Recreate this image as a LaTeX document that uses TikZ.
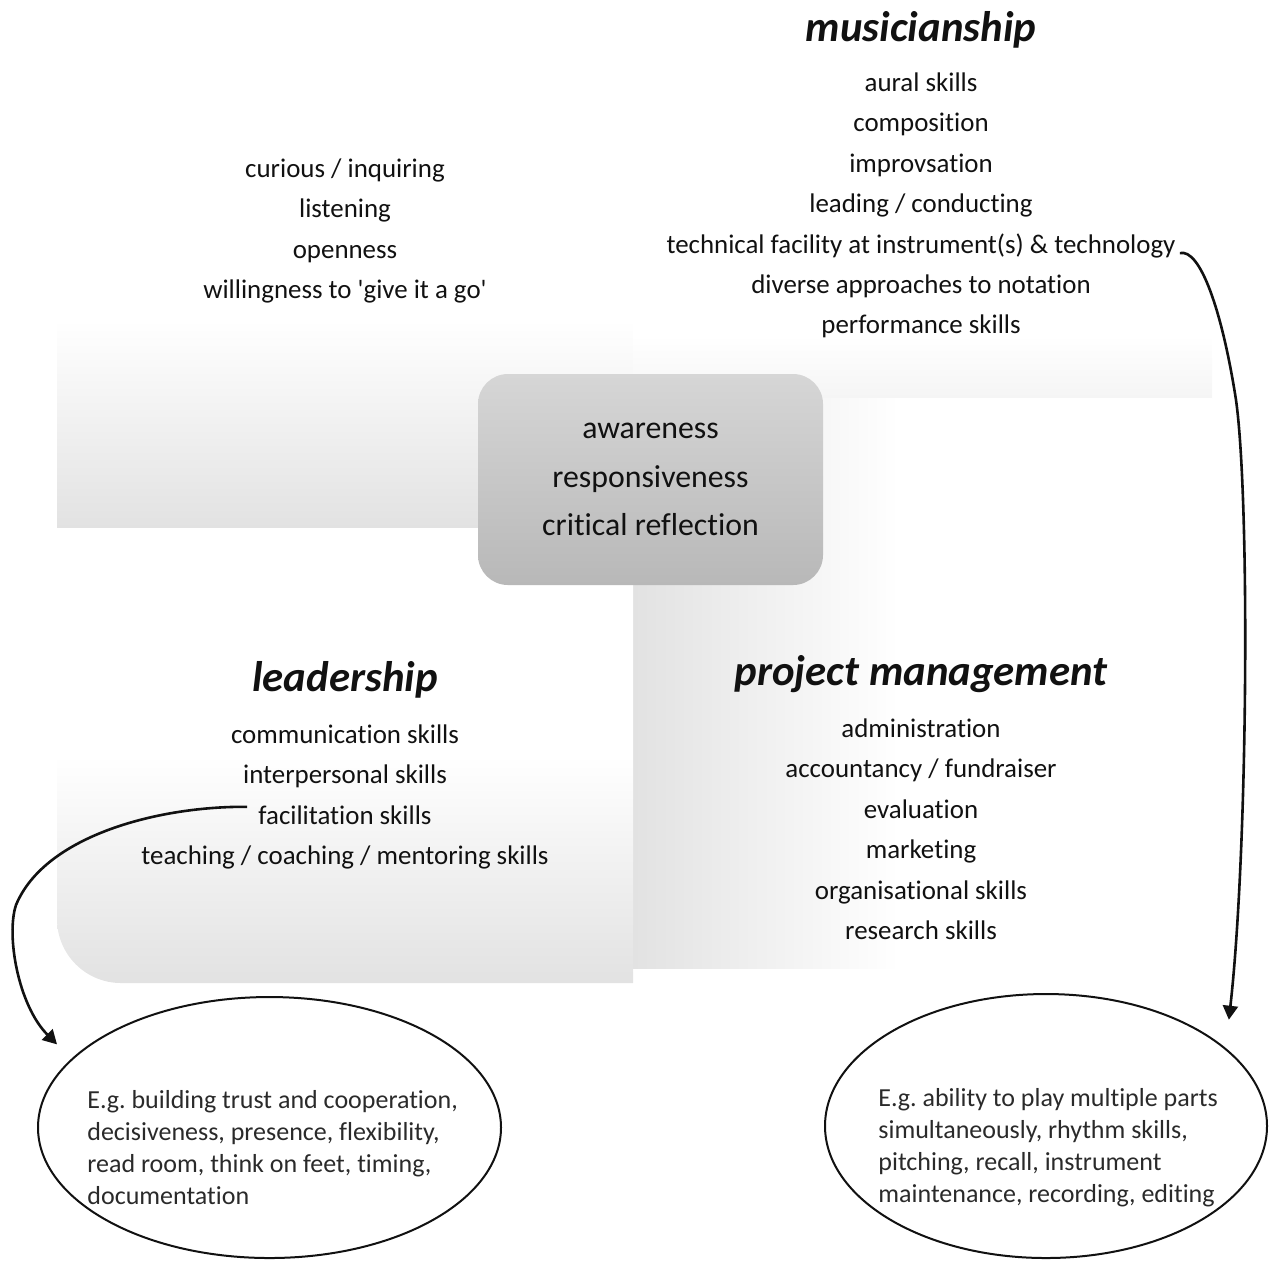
\documentclass[tikz,border=0pt]{standalone}
\usepackage{fontspec}
\setmainfont{Carlito}[Ligatures={NoCommon}]
\usetikzlibrary{arrows.meta,positioning,calc,shapes.geometric}
\definecolor{ink}{HTML}{111111}
\definecolor{inksoft}{HTML}{2A2A2A}
\definecolor{quad}{HTML}{E2E2E2}
\definecolor{quadpale}{HTML}{F5F5F5}
\definecolor{hubtop}{HTML}{D6D6D6}
\definecolor{hubbot}{HTML}{B8B8B8}

% fades for the lower panels (the filled path sits on 25bp--75bp)
\pgfdeclarehorizontalshading{faderight}{100bp}{color(0bp)=(quad); color(25bp)=(quad); color(48bp)=(white); color(100bp)=(white)}
\pgfdeclareverticalshading{fadeup}{100bp}{color(0bp)=(quad); color(25bp)=(quad); color(50bp)=(white); color(100bp)=(white)}

\frenchspacing

\begin{document}
\begin{tikzpicture}[
    x=0.5pt, y=-0.5pt,
    node distance=7.3pt,
    item/.style={font=\fontsize{13.45}{16}\selectfont, text=ink, inner sep=0pt,
                 text height=9.5pt, text depth=3pt},
    head/.style={font=\fontsize{21.4}{25}\selectfont\bfseries\itshape, text=ink, inner sep=0pt},
    hub/.style={rounded corners=15pt, top color=hubtop, bottom color=hubbot,
                minimum width=172.5pt, minimum height=105.5pt, align=center,
                font=\fontsize{15.9}{24.25}\selectfont, text=ink},
    bubble/.style={ellipse, draw=ink, line width=1pt, inner sep=0pt},
    note/.style={font=\fontsize{13}{16}\selectfont, text=inksoft, align=left,
                 inner sep=0pt, anchor=west},
    link/.style={-{Triangle[length=7pt,width=7.5pt]}, line width=1.3pt, draw=ink},
  ]

\useasboundingbox (0,0) rectangle (1277,1260);

% four panels
\shade[top color=white, bottom color=quad] (57,320) rectangle (633,528);
\shade[top color=white, bottom color=quadpale] (633,335) rectangle (1212,398);
\shade[shading=faderight] (633,398) rectangle (1212,968);
\begin{scope}
  \clip[rounded corners=32pt] (57,400) rectangle (800,983);
  \shade[shading=fadeup] (57,528) rectangle (633,983);
\end{scope}

% centre
\node[hub] (hub) at (650.5,479.5) {awareness\\responsiveness\\critical reflection};

% top left
\node[item] (d1) at (345,171) {curious / inquiring};
\node[item, below=of d1] (d2) {listening};
\node[item, below=of d2] (d3) {openness};
\node[item, below=of d3] (d4) {willingness to \textquotesingle give it a go\textquotesingle};

% musicianship
\node[head] (music) at (921,30) {musicianship};
\node[item] (m1) at (921,85) {aural skills};
\node[item, below=of m1] (m2) {composition};
\node[item, below=of m2] (m3) {improvsation};
\node[item, below=of m3] (m4) {leading / conducting};
\node[item, below=of m4] (m5) {technical facility at instrument(s) \& technology};
\node[item, below=of m5] (m6) {diverse approaches to notation};
\node[item, below=of m6] (m7) {performance skills};

% leadership
\node[head] (lead) at (345,680) {leadership};
\node[item] (l1) at (345,737) {communication skills};
\node[item, below=of l1] (l2) {interpersonal skills};
\node[item, below=of l2] (l3) {facilitation skills};
\node[item, below=of l3] (l4) {teaching / coaching / mentoring skills};

% project management
\node[head] (pm) at (921,674) {project management};
\node[item] (p1) at (921,731) {administration};
\node[item, below=of p1] (p2) {accountancy / fundraiser};
\node[item, below=of p2] (p3) {evaluation};
\node[item, below=of p3] (p4) {marketing};
\node[item, below=of p4] (p5) {organisational skills};
\node[item, below=of p5] (p6) {research skills};

% examples
\node[bubble, minimum width=231.5pt, minimum height=130.5pt] (ellL) at (269.5,1127.5) {};
\node[bubble, minimum width=221pt, minimum height=132pt] (ellR) at (1046,1126) {};
\node[note] (noteL) at (87,1148) {E.g. building trust and cooperation,\\decisiveness, presence, flexibility,\\read room, think on feet, timing,\\documentation};
\node[note] (noteR) at (878,1148) {E.g. ability to play multiple parts\\simultaneously, rhythm skills,\\pitching, recall, instrument\\maintenance, recording, editing};

\draw[link] ($(m5.base east)+(4,0)$) .. controls (1200,248) and (1222,310) .. (1236,400)
  .. controls (1250,500) and (1248,850) .. ($(ellR.30)+(23,-14)$);
\draw[link] ($(l3.west)+(-11,-11)$) .. controls (160,806) and (45,835) .. (16,905)
  .. controls (6,935) and (18,1005) .. ($(ellL.160)+(-17,-12)$);

\end{tikzpicture}
\end{document}
